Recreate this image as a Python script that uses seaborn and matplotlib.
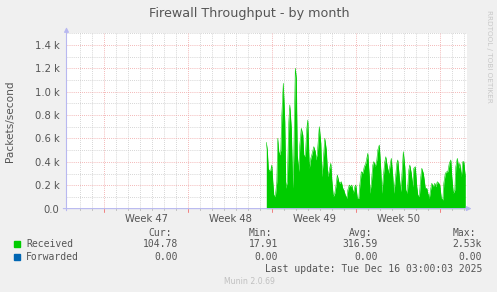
import matplotlib
matplotlib.use("Agg")
import matplotlib.pyplot as plt
import seaborn as sns
import pandas as pd

# ---------------- data ----------------
title = "Firewall Throughput - by month"
y_label = "Packets/second"

# hours relative to the start of Week 49 (Monday 00:00)
hours = [-12, -10, -8, -6, -3, -1, 1, 3, 6, 9, 11, 13, 15, 17, 19, 22, 25, 27, 30, 33,
         35, 38, 41, 43, 46, 48, 50, 53, 55, 58, 61, 63, 66, 69, 71, 74, 77, 79, 83, 86,
         87, 90, 94, 97, 99, 102, 105, 108, 111, 114, 117, 119, 122, 125, 127, 130, 133, 135, 138, 141,
         143, 146, 149, 151, 154, 157, 159, 162, 165, 167, 170, 173, 175, 178, 181, 184, 187, 191, 194, 195,
         198, 201, 203, 206, 209, 211, 214, 217, 219, 222, 225, 227, 230, 233, 235, 238, 241, 243, 246, 249,
         251, 254, 257, 259, 262, 265, 267, 270, 273, 275, 278, 281, 283, 286, 289, 291, 294, 297, 299, 302,
         303, 306, 309, 311, 314, 317, 319, 322, 325, 327, 330, 333, 335, 338, 341, 343, 346, 349, 351, 354,
         357, 359, 362, 365, 367, 370, 373, 375, 378, 381, 383, 386]
received = [567, 502, 345, 322, 330, 373, 230, 116, 102, 230, 602, 487, 459, 500, 801, 1072, 744, 174, 230, 744,
            887, 687, 174, 459, 1201, 1115, 459, 316, 544, 687, 630, 459, 444, 687, 758, 345, 430, 459, 530, 487,
            416, 470, 701, 559, 273, 416, 602, 502, 273, 330, 388, 245, 102, 131, 187, 288, 230, 217, 230, 174,
            159, 116, 88, 159, 202, 187, 202, 131, 187, 202, 88, 88, 202, 316, 302, 359, 388, 473, 273, 131,
            217, 373, 402, 359, 416, 502, 544, 330, 131, 273, 402, 444, 359, 302, 359, 430, 273, 131, 245, 388,
            416, 273, 145, 273, 487, 359, 159, 131, 330, 373, 302, 187, 345, 359, 187, 116, 102, 273, 345, 302,
            273, 174, 174, 131, 88, 174, 217, 187, 217, 187, 230, 217, 202, 88, 74, 217, 302, 316, 316, 388,
            416, 273, 131, 159, 359, 430, 345, 388, 273, 402, 402, 273]
forwarded_hours = [-12, 386]
forwarded = [0.0, 0.0]

week_starts = [-336, -168, 0, 168, 336]
week_labels = ["Week 47", "Week 48", "Week 49", "Week 50"]
week_label_pos = [-252, -84, 84, 252]
day_lines = [-384, -360, -312, -288, -264, -240, -216, -192, -144, -120, -96, -72, -48, -24,
             24, 48, 72, 96, 120, 144, 192, 216, 240, 264, 288, 312, 360, 384]
y_major = [200, 400, 600, 800, 1000, 1200, 1400]
y_minor = [100, 300, 500, 700, 900, 1100, 1300, 1500]
y_ticks = [0, 200, 400, 600, 800, 1000, 1200, 1400]
y_tick_labels = ["0.0", "0.2 k", "0.4 k", "0.6 k", "0.8 k", "1.0 k", "1.2 k", "1.4 k"]

legend_names = ["Received", "Forwarded"]
legend_colors = ["#00CC00", "#0066B3"]
stat_headers = ["Cur:", "Min:", "Avg:", "Max:"]
stats = [["104.78", "17.91", "316.59", "2.53k"],
         ["0.00", "0.00", "0.00", "0.00"]]
last_update = "Last update: Tue Dec 16 03:00:03 2025"
footer = "Munin 2.0.69"
side_text = "RRDTOOL / TOBI OETIKER"

# ---------------- figure ----------------
sns.set_style("white")
plt.rcParams["font.family"] = ["DejaVu Sans"]
W, H = 497, 292
fig = plt.figure(figsize=(W / 100, H / 100), dpi=100, facecolor="#F0F0F0")

x0, x1 = 66.5, 466.5
ytop, ybot = 33.3, 208.6
ax = fig.add_axes([x0 / W, (H - ybot) / H, (x1 - x0) / W, (ybot - ytop) / H])
ax.set_facecolor("white")
ax.set_xlim(-411.6, 388.4)
ax.set_ylim(0, 1500)

grid_gray = "#C8C8C8"
grid_red = "#F0A0A0"
dots = (0, (1, 1.5))
for d in day_lines:
    ax.axvline(d, color=grid_gray, lw=0.6, ls=dots, zorder=0)
for y in y_minor:
    ax.axhline(y, color=grid_gray, lw=0.6, ls=dots, zorder=0)
for w in week_starts:
    ax.axvline(w, color=grid_red, lw=0.6, ls=dots, zorder=0.5)
for y in y_major:
    ax.axhline(y, color=grid_red, lw=0.6, ls=dots, zorder=0.5)

df = pd.DataFrame({"hours": hours, "received": received})
ax.fill_between(df["hours"], 0, df["received"], color=legend_colors[0], lw=0, zorder=2)
sns.lineplot(data=df, x="hours", y="received", color=legend_colors[0], lw=0.4, ax=ax, zorder=2.5)
fdf = pd.DataFrame({"hours": forwarded_hours, "forwarded": forwarded})
sns.lineplot(data=fdf, x="hours", y="forwarded", color=legend_colors[1], lw=0.4, ax=ax, zorder=1)

for s in ax.spines.values():
    s.set_visible(False)
ax.set_xlabel("")
ax.set_ylabel("")
text_col = "#555555"
ax.set_yticks(y_ticks)
ax.set_yticklabels(y_tick_labels, fontsize=7.2, color=text_col)
ax.set_xticks(week_label_pos)
ax.set_xticklabels(week_labels, fontsize=7.2, color=text_col)
ax.tick_params(axis="x", length=0, pad=4)
ax.tick_params(axis="y", length=2, width=0.6, color=grid_gray, pad=3)

axis_col = "#B8B8F0"
ax.annotate("", xy=(1.0125, 0), xytext=(-0.008, 0), xycoords="axes fraction",
            arrowprops=dict(arrowstyle="-|>", color=axis_col, lw=0.8, mutation_scale=7,
                            shrinkA=0, shrinkB=0), annotation_clip=False, zorder=5)
ax.annotate("", xy=(0, 1.035), xytext=(0, -0.012), xycoords="axes fraction",
            arrowprops=dict(arrowstyle="-|>", color=axis_col, lw=0.8, mutation_scale=7,
                            shrinkA=0, shrinkB=0), annotation_clip=False, zorder=5)
for w in week_starts:
    ax.plot([w, w], [0, -25], color="#F08080", lw=0.7, clip_on=False, zorder=5)
for d in day_lines:
    ax.plot([d, d], [0, -15], color="#B0B0B0", lw=0.6, clip_on=False, zorder=5)


def ftext(px, py, s, **kw):
    fig.text(px / W, 1 - py / H, s, **kw)


ftext(249, 13, title, ha="center", va="center", fontsize=9.2, color=text_col)
ftext(10, 121, y_label, ha="center", va="center", rotation=90, fontsize=7.6, color=text_col)
ftext(488.5, 56, side_text, ha="center", va="center", rotation=270, fontsize=5.2, color="#C8C8C8")

mono = dict(family="DejaVu Sans Mono", fontsize=7, color=text_col, va="center")
col_right = [178, 278, 378, 482]
for hdr, xr in zip(stat_headers, col_right):
    ftext(xr - 6, 232.7, hdr, ha="right", **mono)
row_y = [244.3, 256.7]
for name, color, vals, ry in zip(legend_names, legend_colors, stats, row_y):
    fig.patches.append(plt.Rectangle(((14) / W, 1 - (ry + 3) / H), 6 / W, 6 / H,
                                     transform=fig.transFigure, color=color, figure=fig))
    ftext(26, ry, name, ha="left", **mono)
    for v, xr in zip(vals, col_right):
        ftext(xr, ry, v, ha="right", **mono)
ftext(482, 268.7, last_update, ha="right", **mono)
ftext(249, 281, footer, ha="center", va="center", fontsize=5.6, color="#C0C0C0")

fig.savefig("out.png", dpi=100, facecolor=fig.get_facecolor())
